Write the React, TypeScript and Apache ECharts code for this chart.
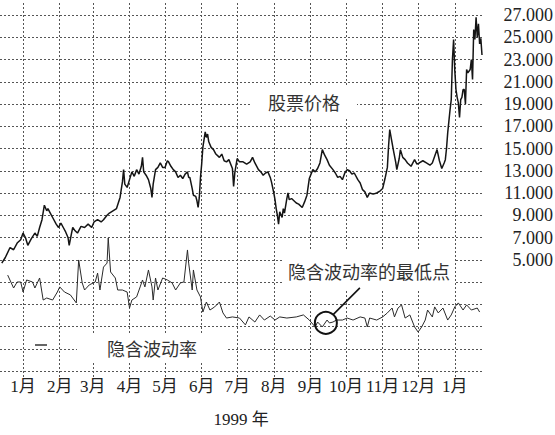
import React, { useEffect, useRef } from "react";
import * as echarts from "echarts";

// ---- data ----
// days counted from 1999-01-01
const priceDays = [
  -18, -15, -11, -8, -5, -2, 0, 2, 4, 7, 10, 12, 14, 16, 18, 20, 21, 23, 25, 28,
  30, 32, 34, 36, 38, 39, 41, 42, 44, 46, 49, 52, 55, 58, 60, 63, 66, 68, 71, 73,
  76, 79, 82, 84, 85, 86, 88, 90, 92, 94, 96, 98, 100, 101, 102, 104, 106, 108, 109, 110,
  112, 114, 116, 118, 120, 122, 123, 125, 127, 129, 131, 133, 135, 137, 139, 140, 141, 143, 144, 146,
  147, 148, 149, 150, 151, 152, 154, 155, 156, 157, 159, 161, 163, 166, 168, 170, 172, 174, 177, 178,
  179, 181, 183, 186, 189, 192, 194, 196, 199, 201, 203, 205, 207, 209, 210, 212, 213, 214, 215, 216,
  217, 219, 220, 221, 223, 224, 225, 227, 229, 231, 233, 236, 238, 240, 242, 245, 247, 249, 251, 253,
  255, 257, 259, 262, 264, 266, 268, 270, 272, 274, 276, 278, 280, 283, 285, 287, 289, 291, 293, 296,
  299, 302, 304, 306, 308, 309, 310, 311, 313, 315, 316, 318, 319, 321, 323, 325, 328, 331, 333, 335,
  338, 341, 344, 346, 348, 350, 352, 354, 356, 357, 358, 359, 361, 362, 363, 364, 365, 366, 367, 368,
  369, 370, 371, 372, 373, 374, 375, 376, 378, 379, 380, 381, 382, 383, 384, 385, 386, 387, 388,
];
const priceValues = [
  4.7, 5.2, 6.1, 5.9, 6.5, 6.8, 7.4, 7.0, 6.3, 6.9, 7.4, 7.1, 7.9, 8.6, 9.9, 9.4, 9.6, 9.2, 8.8, 8.2,
  7.9, 8.3, 7.9, 7.5, 7.0, 6.3, 7.4, 7.9, 7.6, 7.4, 8.0, 7.9, 8.2, 7.9, 8.4, 8.6, 8.4, 8.6, 9.0, 9.2,
  9.4, 9.6, 10.6, 12.0, 13.1, 11.8, 11.5, 12.2, 12.9, 12.5, 13.1, 12.7, 13.4, 14.2, 12.9, 12.6, 12.2, 11.4, 10.6, 11.8,
  13.1, 13.3, 13.7, 13.3, 13.3, 13.9, 13.8, 13.4, 13.1, 12.9, 12.4, 12.6, 12.3, 12.7, 12.9, 12.4, 12.4, 11.4, 10.8, 10.7,
  10.3, 9.7, 10.6, 12.4, 13.6, 15.1, 16.5, 16.0, 16.3, 15.6, 15.1, 14.9, 14.5, 14.2, 14.5, 13.9, 13.8, 14.0, 13.2, 11.6,
  12.8, 14.1, 13.8, 13.8, 13.6, 13.8, 14.2, 13.7, 13.1, 12.9, 12.6, 12.8, 12.9, 12.4, 12.0, 11.0, 10.4, 9.6, 9.0, 8.2,
  9.3, 8.8, 9.6, 9.2, 10.5, 11.0, 10.4, 10.5, 10.3, 10.1, 10.0, 9.7, 10.2, 10.8, 12.3, 13.1, 12.9, 13.2, 13.7, 14.9,
  14.4, 14.0, 13.5, 13.1, 12.8, 12.4, 12.5, 12.2, 12.8, 13.1, 13.0, 12.7, 12.8, 12.2, 11.9, 11.3, 11.1, 10.6, 11.0, 10.9,
  11.0, 11.2, 11.4, 12.3, 13.3, 15.2, 16.7, 16.1, 14.9, 13.8, 13.1, 14.1, 14.9, 14.2, 14.0, 13.7, 13.4, 14.0, 13.6, 13.7,
  13.9, 13.7, 13.5, 13.7, 14.3, 14.9, 13.9, 13.2, 13.7, 14.0, 15.0, 16.4, 18.5, 19.4, 23.0, 24.8, 22.0, 20.3, 19.6, 19.1,
  17.8, 19.4, 19.6, 20.3, 20.3, 19.0, 22.1, 21.8, 22.1, 23.0, 21.2, 25.7, 24.8, 26.8, 25.0, 26.2, 24.4, 24.9, 23.4,
];

const volDays = [
  -13, -8, -5, -2, 0, 3, 8, 10, 14, 17, 20, 25, 29, 31, 35, 40, 45, 47, 50, 52,
  56, 61, 63, 65, 68, 71, 72, 74, 78, 80, 84, 88, 90, 92, 96, 99, 101, 103, 106, 109,
  110, 112, 114, 118, 122, 126, 129, 133, 136, 139, 140, 143, 144, 147, 150, 152, 155, 158, 162, 166,
  169, 172, 177, 183, 188, 191, 196, 200, 204, 209, 213, 217, 223, 231, 237, 242, 247, 249, 253, 257,
  259, 262, 265, 270, 274, 279, 285, 289, 291, 293, 299, 304, 308, 312, 314, 317, 320, 323, 327, 331,
  334, 337, 340, 342, 346, 348, 351, 355, 359, 362, 365, 368, 372, 375, 379, 384, 386,
];
const volValues = [
  43.1, 37.3, 40.0, 40.0, 35.5, 40.9, 40.0, 37.3, 41.8, 31.9, 32.8, 31.9, 35.5, 37.8, 35.5, 34.2, 30.6, 49.9, 39.6, 36.4,
  38.7, 40.0, 44.0, 36.4, 46.7, 48.5, 59.8, 44.5, 41.8, 36.4, 36.4, 35.5, 28.3, 31.9, 33.3, 37.8, 40.9, 37.8, 45.4, 37.8,
  31.9, 41.8, 36.4, 41.8, 40.9, 39.6, 36.4, 39.6, 40.0, 54.4, 48.5, 36.4, 45.4, 36.4, 33.3, 26.5, 31.0, 27.4, 28.8, 31.0,
  26.1, 23.8, 24.3, 23.8, 20.7, 24.3, 22.0, 25.2, 22.9, 24.7, 22.9, 24.3, 23.8, 24.3, 25.2, 22.9, 19.8, 22.0, 19.8, 22.9,
  21.6, 22.0, 22.9, 22.9, 23.8, 22.9, 24.3, 23.8, 19.8, 23.8, 22.9, 24.3, 26.1, 28.3, 24.3, 28.3, 29.7, 23.8, 25.2, 19.8,
  17.5, 19.8, 22.9, 27.4, 24.3, 28.8, 26.1, 28.3, 22.9, 25.2, 28.8, 30.6, 27.4, 29.7, 27.4, 28.3, 26.5,
];

const monthStarts = [
  "1999-01-01", "1999-02-01", "1999-03-01", "1999-04-01", "1999-05-01", "1999-06-01", "1999-07-01",
  "1999-08-01", "1999-09-01", "1999-10-01", "1999-11-01", "1999-12-01", "2000-01-01",
];
const monthLabels = ["1月", "2月", "3月", "4月", "5月", "6月", "7月", "8月", "9月", "10月", "11月", "12月", "1月"];
const priceTicks = [-5, -3, -1, 1, 3, 5, 7, 9, 11, 13, 15, 17, 19, 21, 23, 25, 27];
const priceLabelTicks = [5, 7, 9, 11, 13, 15, 17, 19, 21, 23, 25, 27];

// lowest point of implied volatility (circled)
const lowPointDay = 256;
const lowPointVol = 21.6;

const DAY = 86400000;
const dayOf = (s: string) => {
  const [y, m, d] = s.split("-").map(Number);
  return Math.round((Date.UTC(y, m - 1, d) - Date.UTC(1999, 0, 1)) / DAY);
};

const SERIF = '"Liberation Serif", "Noto Sans CJK SC", serif';
const CJK = '"Noto Sans CJK SC", sans-serif';

export default function App() {
  const ref = useRef<HTMLDivElement>(null);

  useEffect(() => {
    if (!ref.current) return;
    const chart = echarts.init(ref.current, undefined, { renderer: "svg" });
    const monthDays = monthStarts.map(dayOf);
    const gridLine = { color: "#555", width: 1, type: [2, 2] as any };

    chart.setOption({
      animation: false,
      backgroundColor: "#fff",
      grid: { left: 0, right: 73, top: 3, bottom: 56, containLabel: false, outerBoundsMode: "none" },
      xAxis: {
        type: "value",
        min: -19.5,
        max: 388,
        axisLine: { show: false },
        axisTick: { show: false, customValues: monthDays },
        splitLine: { show: true, lineStyle: gridLine },
        axisLabel: {
          customValues: monthDays,
          formatter: (v: number) => {
            const i = monthDays.indexOf(Math.round(v));
            return i >= 0 ? monthLabels[i] : "";
          },
          fontFamily: SERIF,
          fontSize: 17,
          color: "#222",
          margin: 7,
          verticalAlign: "middle",
          hideOverlap: false,
        },
        name: "1999 年",
        nameLocation: "middle",
        nameGap: 32,
        nameTextStyle: { fontFamily: SERIF, fontSize: 17, color: "#222" },
      },
      yAxis: [
        {
          type: "value",
          position: "right",
          min: -5.719,
          max: 28.079,
          axisLine: { show: false },
          axisTick: { show: false, customValues: priceTicks },
          splitLine: { show: true, lineStyle: gridLine },
          axisLabel: {
            customValues: priceLabelTicks,
            formatter: (v: number) => v.toFixed(3),
            align: "right",
            margin: 71,
            fontFamily: SERIF,
            fontSize: 18,
            color: "#222",
          },
        },
        {
          type: "value",
          show: false,
          min: -3.6,
          max: 165.4,
          splitLine: { show: false },
        },
      ],
      series: [
        {
          name: "股票价格",
          type: "line",
          yAxisIndex: 0,
          data: priceDays.map((d, i) => [d, priceValues[i]]),
          showSymbol: false,
          symbol: "none",
          lineStyle: { color: "#151515", width: 1.5 },
          z: 3,
        },
        {
          name: "隐含波动率",
          type: "line",
          yAxisIndex: 1,
          data: volDays.map((d, i) => [d, volValues[i]]),
          showSymbol: false,
          symbol: "none",
          lineStyle: { color: "#2a2a2a", width: 1 },
          z: 3,
          markPoint: {
            symbol: "circle",
            symbolSize: 22,
            label: { show: false },
            itemStyle: { color: "rgba(0,0,0,0)", borderColor: "#111", borderWidth: 2 },
            data: [{ coord: [lowPointDay, lowPointVol] }],
          },
        },
      ],
    });

    const c = chart.convertToPixel({ xAxisIndex: 0, yAxisIndex: 1 } as any, [
      lowPointDay,
      lowPointVol,
    ]) as number[];

    const textStyle = (text: string, pad: number[]) => ({
      text,
      fontFamily: CJK,
      fontSize: 18,
      fill: "#333",
      align: "center",
      verticalAlign: "middle",
      backgroundColor: "#fff",
      padding: pad,
    });

    chart.setOption({
      graphic: [
        { type: "text", x: 304, y: 102, z: 100, style: textStyle("股票价格", [6, 17]) },
        { type: "text", x: 369, y: 271, z: 100, style: textStyle("隐含波动率的最低点", [11, 5]) },
        { type: "text", x: 152, y: 348, z: 100, style: textStyle("隐含波动率", [5, 30]) },
        {
          type: "line",
          z: 100,
          shape: { x1: 35, y1: 345, x2: 47, y2: 345 },
          style: { stroke: "#333", lineWidth: 1.5 },
        },
        {
          type: "line",
          z: 100,
          shape: { x1: c[0] + 7, y1: c[1] - 8, x2: c[0] + 34, y2: c[1] - 35 },
          style: { stroke: "#111", lineWidth: 1.6 },
        },
      ],
    });

    return () => chart.dispose();
  }, []);

  return (
    <div
      ref={ref}
      style={{ position: "absolute", left: 0, top: 0, width: 555, height: 435, background: "#fff" }}
    />
  );
}
